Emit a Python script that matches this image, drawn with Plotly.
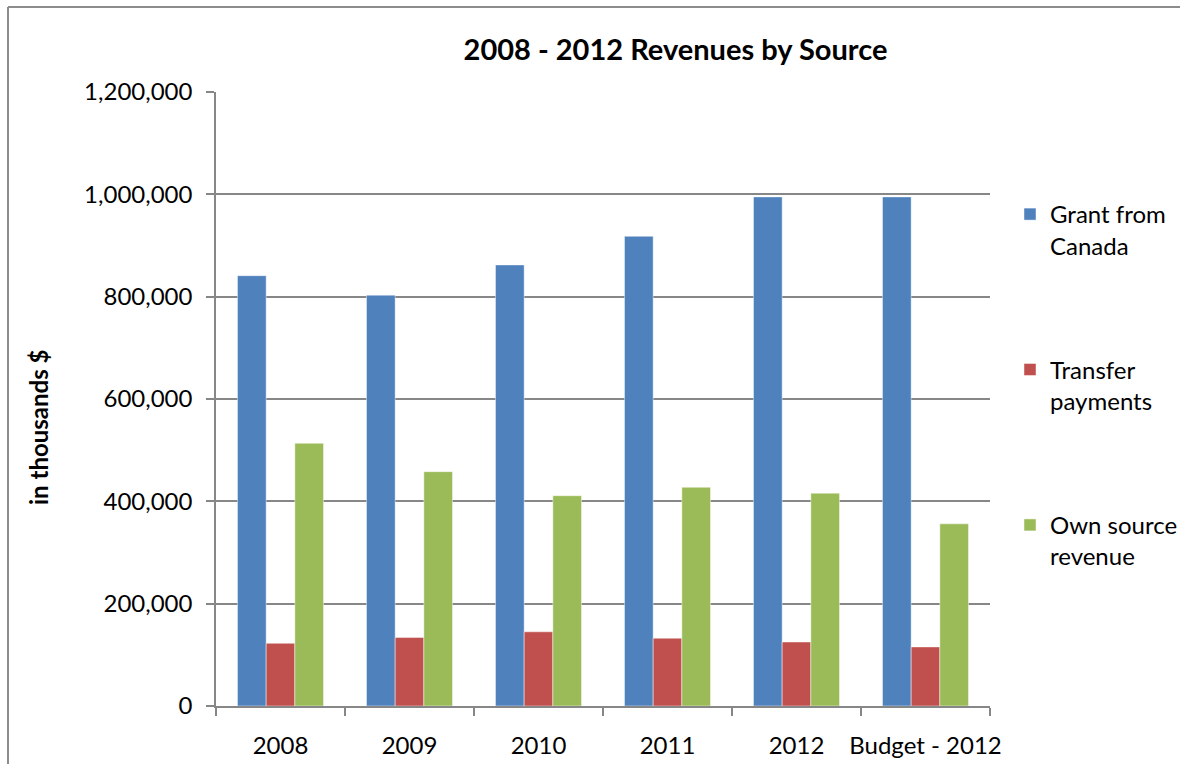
import plotly.graph_objects as go

# Revenue data (in thousands of dollars)
categories = ["2008", "2009", "2010", "2011", "2012", "Budget - 2012"]
grant_from_canada = [841000, 803000, 862000, 918000, 995000, 995000]
transfer_payments = [122500, 134000, 145000, 132500, 125000, 115500]
own_source_revenue = [513500, 458000, 411000, 427500, 416000, 356000]

series_names = ["Grant from<br>Canada", "Transfer<br>payments", "Own source<br>revenue"]
series_values = [grant_from_canada, transfer_payments, own_source_revenue]
series_colors = ["#4F81BD", "#C0504D", "#9BBB59"]

y_ticks = [0, 200000, 400000, 600000, 800000, 1000000, 1200000]

W, H = 1180, 764
L, R, T, B = 216, 190, 92, 58
plot_w = W - L - R
plot_h = H - T - B

FONT = "Lato"
GRID = "#878787"

fig = go.Figure()
for i, (name, vals, col) in enumerate(zip(series_names, series_values, series_colors)):
    fig.add_trace(go.Bar(
        x=categories, y=vals, name=name,
        marker=dict(color=col, line=dict(width=1, color="rgba(255,255,255,0.45)")),
        legendgroup=f"g{i}",
    ))


def px_x(p):
    return (p - L) / plot_w


def px_y(p):
    return 1 - (p - T) / plot_h


# Chart frame (top and left edges visible)
frame = dict(color="#8c8c8c", width=2)
shapes = [
    dict(type="line", xref="paper", yref="paper",
         x0=px_x(8), x1=px_x(W + 5), y0=px_y(7), y1=px_y(7), line=frame),
    dict(type="line", xref="paper", yref="paper",
         x0=px_x(8), x1=px_x(8), y0=px_y(7), y1=px_y(H + 5), line=frame),
]

fig.update_layout(
    width=W, height=H,
    margin=dict(l=L, r=R, t=T, b=B, autoexpand=False),
    paper_bgcolor="white", plot_bgcolor="white",
    font=dict(family=FONT, size=24, color="black"),
    barmode="group", bargap=0.333, bargroupgap=0,
    title=dict(text="<b>2008 - 2012 Revenues by Source</b>",
               font=dict(family=FONT, size=29, color="black"),
               x=675.5 / W, xanchor="center", y=1 - 50 / H, yanchor="middle"),
    xaxis=dict(
        type="category", showline=True, linecolor=GRID, linewidth=1.5,
        ticks="outside", tickson="boundaries", ticklen=8, tickcolor=GRID, tickwidth=1.5,
        showgrid=False, tickfont=dict(family=FONT, size=24, color="black"),
        tickangle=0, ticklabelstandoff=17, automargin=False,
    ),
    yaxis=dict(
        range=[0, 1200000], tickvals=y_ticks, tickformat=",",
        showline=True, linecolor=GRID, linewidth=1.5,
        ticks="outside", ticklen=8, tickcolor=GRID, tickwidth=1.5,
        showgrid=True, gridcolor=GRID, gridwidth=1.5, zeroline=False,
        tickfont=dict(family=FONT, size=24, color="black"),
        ticklabelstandoff=9, automargin=False,
    ),
    legend=dict(
        xref="paper", yref="paper",
        x=px_x(1010), xanchor="left", y=px_y(192), yanchor="top",
        font=dict(family=FONT, size=24, color="black"),
        tracegroupgap=90, valign="top", bgcolor="rgba(0,0,0,0)",
    ),
    annotations=[dict(
        text="<b>in thousands $</b>", textangle=-90,
        xref="paper", yref="paper", x=px_x(38), y=px_y(428),
        xanchor="center", yanchor="middle", showarrow=False,
        font=dict(family=FONT, size=24, color="black"),
    )],
    shapes=shapes,
)

fig.write_html("out.html")
